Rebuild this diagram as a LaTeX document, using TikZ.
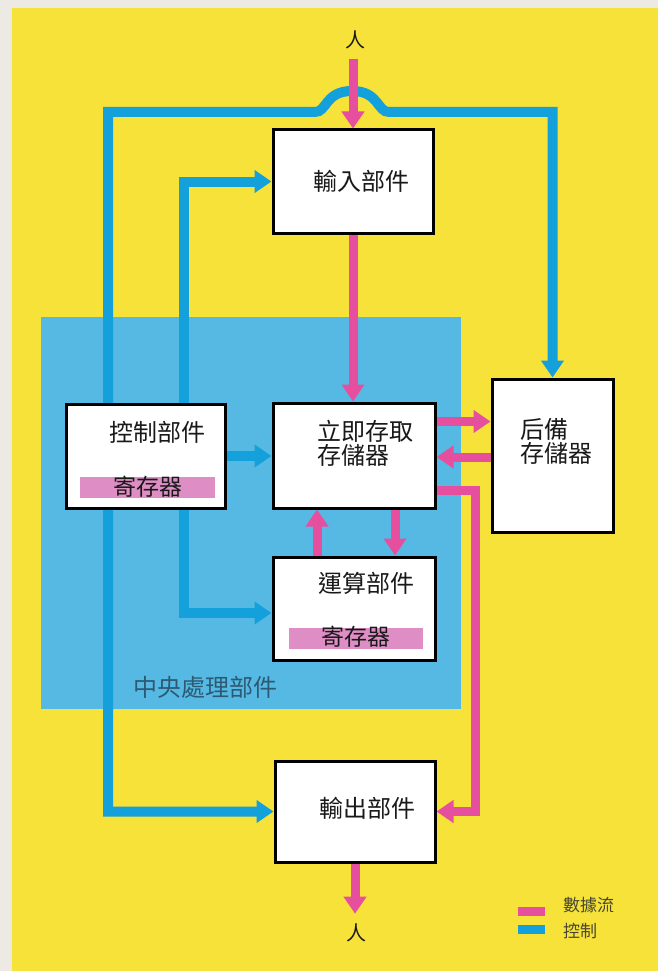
\documentclass[tikz,border=0pt]{standalone}
\usepackage{fontspec}
\setmainfont{Noto Sans CJK TC}
\usetikzlibrary{arrows.meta,calc}
\pgfdeclarelayer{bglayer}
\pgfdeclarelayer{linelayer}
\pgfsetlayers{bglayer,linelayer,main}
\definecolor{bgyellow}{RGB}{247,226,58}
\definecolor{cpublue}{RGB}{86,185,228}
\definecolor{ctlblue}{RGB}{20,160,218}
\definecolor{datapink}{RGB}{230,78,158}
\definecolor{regpink}{RGB}{222,142,196}
\definecolor{cputext}{RGB}{45,90,115}
\definecolor{legtext}{RGB}{70,70,50}
\definecolor{inktext}{RGB}{25,25,25}
\definecolor{edgestrip}{RGB}{236,234,226}
\begin{document}
\begin{tikzpicture}[x=1pt,y=-1pt,
  >={Triangle[length=17pt,width=22pt]},
  box/.style={draw=black,line width=3pt,fill=white,inner sep=0pt},
  txt/.style={inner sep=0pt,text=inktext,font=\fontsize{24}{24}\selectfont},
  regbar/.style={fill=regpink,inner sep=0pt,minimum height=21pt,text=inktext,
    text height=17pt,text depth=2pt,font=\fontsize{23}{24}\selectfont},
  person/.style={inner sep=10pt,text=inktext,font=\fontsize{20}{20}\selectfont},
  ctl/.style={draw=ctlblue,line width=10pt},
  dat/.style={draw=datapink,line width=9pt},
  swatch/.style={inner sep=0pt,minimum width=27pt,minimum height=9pt},
  legtxt/.style={inner sep=0pt,anchor=west,text=legtext,font=\fontsize{17}{17}\selectfont}]
\useasboundingbox (0,0) rectangle (658,971);
\begin{pgfonlayer}{bglayer}
  \fill[edgestrip] (0,0) rectangle (658,971);
  \fill[bgyellow] (12,8) rectangle (658,971);
  \fill[cpublue] (41,317) rectangle (461,709);
\end{pgfonlayer}

% boxes
\node[box,minimum width=160pt,minimum height=103pt] (in)   at (353,181.5) {};
\node[box,minimum width=159pt,minimum height=104pt] (ctrl) at (145.5,456) {};
\node[box,minimum width=162pt,minimum height=105pt] (ram)  at (354,455.5) {};
\node[box,minimum width=121pt,minimum height=153pt] (bk)   at (552.5,455.5) {};
\node[box,minimum width=162pt,minimum height=103pt] (alu)  at (354,608.5) {};
\node[box,minimum width=160pt,minimum height=101pt] (out)  at (355,811.5) {};

% register bars
\node[regbar,minimum width=135pt] (creg) at (147.5,487.5) {寄存器};
\node[regbar,minimum width=134pt] (areg) at (356,638) {寄存器};

% texts
\node[txt] (inT)   at (361,181) {輸入部件};
\node[txt] (ctrlT) at (157,432) {控制部件};
\node[txt,align=left,anchor=west] (ramT) at (317,443.5) {立即存取\\存儲器};
\node[txt,align=left,anchor=west] (bkT)  at (520,441.5) {后備\\存儲器};
\node[txt] (aluT)  at (366,583) {運算部件};
\node[txt] (outT)  at (367,808) {輸出部件};
\node[txt,text=cputext] (cpuT) at (205.5,687) {中央處理部件};

% persons
\node[person] (p1) at (355,40) {人};
\node[person] (p2) at (356,933) {人};

% legend
\node[swatch,fill=datapink] (lgp) at (531.5,911.5) {};
\node[swatch,fill=ctlblue]  (lgb) at (531.5,929.5) {};
\node[legtxt] (lgpT) at (563,905) {數據流};
\node[legtxt] (lgbT) at (563,931) {控制};

\begin{pgfonlayer}{linelayer}
  % control lines
  \draw[ctl,<->] (bk.north) |- (389,112)
     .. controls (377,112) and (379,91) .. (352,91)
     .. controls (325,91) and (327,112) .. (315,112)
     -- (108,112) |- (out.west);
  \draw[ctl,<->] (in.west) -| ($(alu.west)+(-88,4.5)$) -- ($(alu.west)+(0,4.5)$);
  \draw[ctl,->] (ctrl.east) -- (ctrl.east -| ram.west);
  % data lines
  \draw[dat,->] (in.north |- p1.south) -- (in.north);
  \draw[dat,->] (in.south) -- (in.south |- ram.north);
  \draw[dat,->] ([yshift=34pt]ram.east) -- ([yshift=34pt]ram.east -| bk.west);
  \draw[dat,->] ([yshift=-1.5pt]bk.west) -- ([yshift=-1.5pt]bk.west -| ram.east);
  \draw[dat,->] ([yshift=-35pt]ram.east) -| ($(out.east)+(39,0)$) -- (out.east);
  \draw[dat,->] ([xshift=-37pt]alu.north) -- ([xshift=-37pt]alu.north |- ram.south);
  \draw[dat,->] ([xshift=41pt]ram.south) -- ([xshift=41pt]ram.south |- alu.north);
  \draw[dat,->] (out.south) -- (out.south |- p2.north);
\end{pgfonlayer}
\end{tikzpicture}
\end{document}
